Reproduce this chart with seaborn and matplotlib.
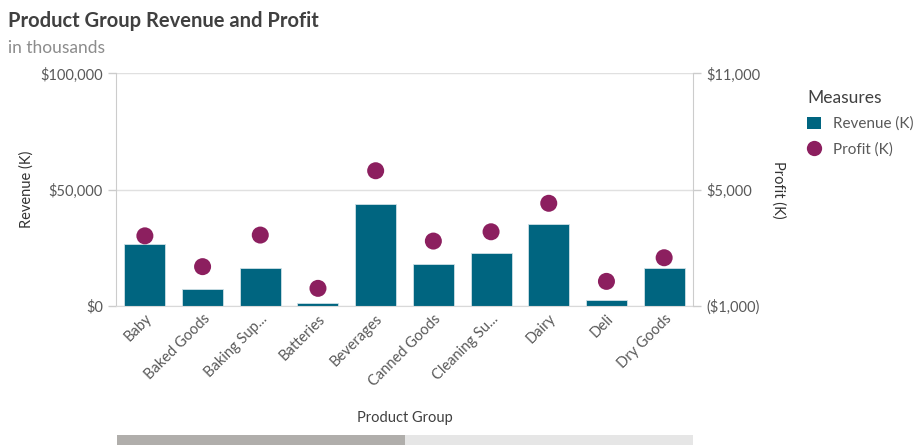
import pandas as pd
import seaborn as sns
import matplotlib.pyplot as plt
from matplotlib.ticker import FuncFormatter
from matplotlib.lines import Line2D
from matplotlib.patches import Patch, Rectangle

# Dane
grupy = ['Baby', 'Baked Goods', 'Baking Sup...', 'Batteries', 'Beverages',
         'Canned Goods', 'Cleaning Su...', 'Dairy', 'Deli', 'Dry Goods']
przychod = [26500, 7200, 16300, 1200, 43800, 17900, 22800, 35200, 2600, 16300]
zysk = [2620, 1030, 2660, -90, 5980, 2350, 2830, 4300, 270, 1490]

df = pd.DataFrame({'Grupa': grupy, 'Revenue': przychod, 'Profit': zysk})

kolor_bar = '#006580'
kolor_pkt = '#8c1f5f'
szary = '#595959'

sns.set_style('white')
plt.rcParams['font.family'] = ['Lato', 'DejaVu Sans']

fig = plt.figure(figsize=(9.18, 4.48), dpi=100)
ax = fig.add_axes([0.1264, 0.317, 0.6285, 0.519])

sns.barplot(data=df, x='Grupa', y='Revenue', color=kolor_bar, width=0.71,
            edgecolor='#cfe0e6', linewidth=0.6, saturation=1, ax=ax)

ax2 = ax.twinx()
sns.scatterplot(data=df, x='Grupa', y='Profit', color=kolor_pkt, s=150,
                edgecolor='none', ax=ax2, zorder=5)

ax.set_ylim(0, 100000)
ax2.set_ylim(-1000, 11000)
ax.set_xlim(-0.5, len(grupy) - 0.5)
ax.set_yticks([0, 50000, 100000])
ax2.set_yticks([-1000, 5000, 11000])


def fmt_dol(v, pos):
    if v < 0:
        return '(${:,.0f})'.format(-v)
    return '${:,.0f}'.format(v)


ax.yaxis.set_major_formatter(FuncFormatter(fmt_dol))
ax2.yaxis.set_major_formatter(FuncFormatter(fmt_dol))

ax.grid(axis='y', color='#e0e0e0', linewidth=1)
ax.set_axisbelow(True)
for a in (ax, ax2):
    for s in a.spines.values():
        s.set_visible(False)
    a.tick_params(axis='y', colors='#cccccc', labelcolor=szary, labelsize=10.5,
                  length=6, width=1)
ax.spines['left'].set_visible(True)
ax.spines['left'].set_color('#cccccc')
ax2.spines['right'].set_visible(True)
ax2.spines['right'].set_color('#cccccc')
ax.spines['bottom'].set_visible(True)
ax.spines['bottom'].set_color('#d9d9d9')

ax.tick_params(axis='x', length=0, labelcolor=szary, labelsize=10.5, pad=4)
plt.setp(ax.get_xticklabels(), rotation=45, ha='right', rotation_mode='anchor')

ax.set_xlabel('')
ax.set_ylabel('Revenue (K)', fontsize=10.5, color='#333333')
ax.yaxis.set_label_coords(-0.142, 0.5)
ax2.set_xlabel('')
ax2.set_ylabel('Profit (K)', fontsize=10.5, color='#333333', rotation=270,
               labelpad=18)
fig.text(0.441, 0.067, 'Product Group', fontsize=10.5, color='#404040',
         ha='center', va='center')

fig.text(0.009, 0.953, 'Product Group Revenue and Profit', fontsize=14.5,
         fontweight='bold', color='#404040', va='center')
fig.text(0.009, 0.892, 'in thousands', fontsize=12.5, color='#8c8c8c', va='center')

# legenda
uchwyty = [Patch(facecolor=kolor_bar, edgecolor='none', label='Revenue (K)'),
           Line2D([0], [0], marker='o', color='none', markerfacecolor=kolor_pkt,
                  markeredgecolor='none', markersize=11, label='Profit (K)')]
leg = fig.legend(handles=uchwyty, title='Measures', loc='upper left',
                 bbox_to_anchor=(0.864, 0.83), frameon=False, fontsize=11,
                 title_fontsize=12.5, handlelength=0.9, handleheight=0.9,
                 handletextpad=0.8, labelspacing=0.7, alignment='left')
for t in leg.get_texts():
    t.set_color(szary)
leg.get_title().set_color('#404040')

# pasek przewijania
fig.patches.append(Rectangle((0.1274, 0.007), 0.6275, 0.022, transform=fig.transFigure,
                             facecolor='#e6e6e6', edgecolor='none'))
fig.patches.append(Rectangle((0.1274, 0.007), 0.314, 0.022, transform=fig.transFigure,
                             facecolor='#b0aeab', edgecolor='none'))

plt.savefig('out.png', dpi=100)
